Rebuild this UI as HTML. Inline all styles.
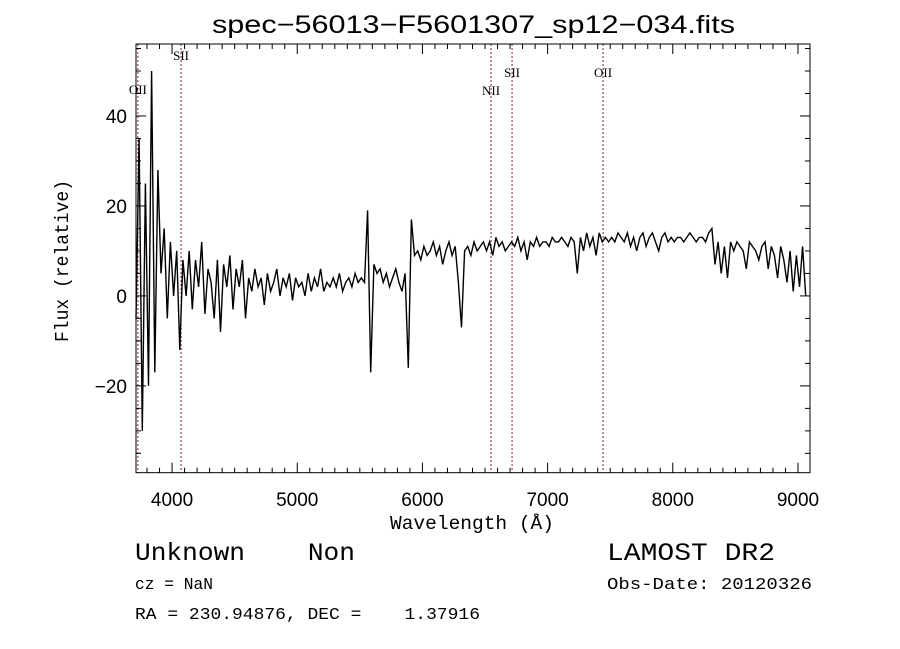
<!DOCTYPE html>
<html><head><meta charset="utf-8"><style>
body{margin:0;background:#fff;}
svg{display:block;font-family:"Liberation Sans",sans-serif;}
text{white-space:pre;}
</style></head><body>
<svg id="chart" width="900" height="649" viewBox="0 0 900 649" xmlns="http://www.w3.org/2000/svg" xml:space="preserve">
<rect width="900" height="649" fill="#fff"/>
<text x="212" y="33" font-size="25" textLength="523" lengthAdjust="spacingAndGlyphs">spec−56013−F5601307_sp12−034.fits</text>
<g id="lines"></g>
<g id="spec"></g>
<rect x="136" y="44" width="674" height="428.7" fill="none" stroke="#000" stroke-width="1"/>
<g id="ticks"></g>
<text x="390" y="529" font-size="19" textLength="164" lengthAdjust="spacingAndGlyphs" font-family="Liberation Mono, monospace">Wavelength (Å)</text>
<text transform="translate(68,342) rotate(-90)" font-size="19" textLength="162" lengthAdjust="spacingAndGlyphs" font-family="Liberation Mono, monospace">Flux (relative)</text>
<text x="135" y="560" font-size="25" textLength="220" lengthAdjust="spacingAndGlyphs" font-family="Liberation Mono, monospace">Unknown    Non</text>
<text x="135" y="589" font-size="17" textLength="78" lengthAdjust="spacingAndGlyphs" font-family="Liberation Mono, monospace">cz = NaN</text>
<text x="135" y="619" font-size="17" textLength="345" lengthAdjust="spacingAndGlyphs" font-family="Liberation Mono, monospace">RA = 230.94876, DEC =    1.37916</text>
<text x="607" y="560" font-size="25" textLength="168" lengthAdjust="spacingAndGlyphs" font-family="Liberation Mono, monospace">LAMOST DR2</text>
<text x="607" y="589" font-size="17" textLength="205" lengthAdjust="spacingAndGlyphs" font-family="Liberation Mono, monospace">Obs-Date: 20120326</text>
</svg>
<script>
const waveStart = 3712;
const waveStep = 25;
const flux = [-5,35,-30,25,-20,50,-17,28,
5,15,-5,12,0,10,-12,8,
0,10,-3,8,2,12,-4,6,
3,-5,8,-8,7,2,9,-3,
6,2,8,-5,4,1,6,2,
4,-2,5,1,3,6,0,4,
2,5,-1,4,2,3,0,5,
1,4,2,6,1,3,2,4,
2,5,1,3,4,2,5,3,
4,3,19,-17,7,5,6,3,
5,2,4,6,3,1,5,-16,
17,9,10,8,11,9,10,12,
9,11,7,10,12,9,11,3,
-7,10,11,9,12,10,11,12,
10,12,9,13,11,12,10,11,
12,11,13,10,12,8,12,11,
13,11,12,12,11,13,12,12,
13,12,11,13,12,5,13,10,
14,11,13,9,14,12,13,12,
13,12,14,13,12,14,11,13,
10,13,14,11,13,14,12,10,
13,14,12,13,12,13,13,12,
13,14,13,12,13,13,12,14,
15,7,12,5,11,4,12,10,
12,11,10,6,12,11,10,8,
11,12,6,11,9,4,11,8,
3,10,1,9,2,11,0];
const lineNames = ["OII","SII","NII","SII","OII"];
const lineWaves = [3727,4072,6548,6716,7443];
const lineLabelY = [94,60,95,77,77];
const xTicks = [4000,5000,6000,7000,8000,9000];
const yTicks = [-20,0,20,40];
const NS="http://www.w3.org/2000/svg";
const X0=136,X1=810,Y0=44,Y1=472.7;
const wMin=3712,wMax=9096,fMin=-39.3,fMax=56;
function xs(w){return X0+(w-wMin)/(wMax-wMin)*(X1-X0);}
function ys(f){return Y1-(f-fMin)/(fMax-fMin)*(Y1-Y0);}
function mk(t,a,p){const e=document.createElementNS(NS,t);for(const k in a)e.setAttribute(k,a[k]);p.appendChild(e);return e;}
const spec=document.getElementById('spec');
let d='';
flux.forEach((f,i)=>{d+=(i?'L':'M')+xs(waveStart+waveStep*i).toFixed(1)+','+ys(f).toFixed(1);});
const sp=mk('path',{d:d,fill:'none',stroke:'#000','stroke-width':1.4},spec);


const lg=document.getElementById('lines');
lineWaves.forEach((w,i)=>{
 const l=mk('line',{x1:xs(w),x2:xs(w),y1:Y0,y2:Y1,stroke:'#7a2a2a','stroke-width':1,'stroke-dasharray':'2,2'},lg);
 
 
 const t=mk('text',{x:xs(w),y:lineLabelY[i],'font-size':13,'text-anchor':'middle','font-family':'Liberation Serif, serif'},lg);
 
 
 t.textContent=lineNames[i];
});
const tg=document.getElementById('ticks');
for(let w=3800;w<=9000;w+=100){
 const maj=(w%1000===0),L=maj?10:5,x=xs(w);
 mk('line',{x1:x,x2:x,y1:Y1,y2:Y1-L,stroke:'#000'},tg);
 mk('line',{x1:x,x2:x,y1:Y0,y2:Y0+L,stroke:'#000'},tg);
}
for(let f=-35;f<=55;f+=5){
 const maj=(f%20===0),L=maj?10:5,y=ys(f);
 mk('line',{x1:X0,x2:X0+L,y1:y,y2:y,stroke:'#000'},tg);
 mk('line',{x1:X1,x2:X1-L,y1:y,y2:y,stroke:'#000'},tg);
}
xTicks.forEach(v=>{
 const t=mk('text',{x:xs(v),y:506,'font-size':19,'text-anchor':'middle'},tg);
 
 
 t.textContent=v;
});
yTicks.forEach(v=>{
 const t=mk('text',{x:127,y:ys(v)+7,'font-size':19,'text-anchor':'end'},tg);
 
 
 t.textContent=(v<0?'−':'')+Math.abs(v);
});
</script>
</body></html>
